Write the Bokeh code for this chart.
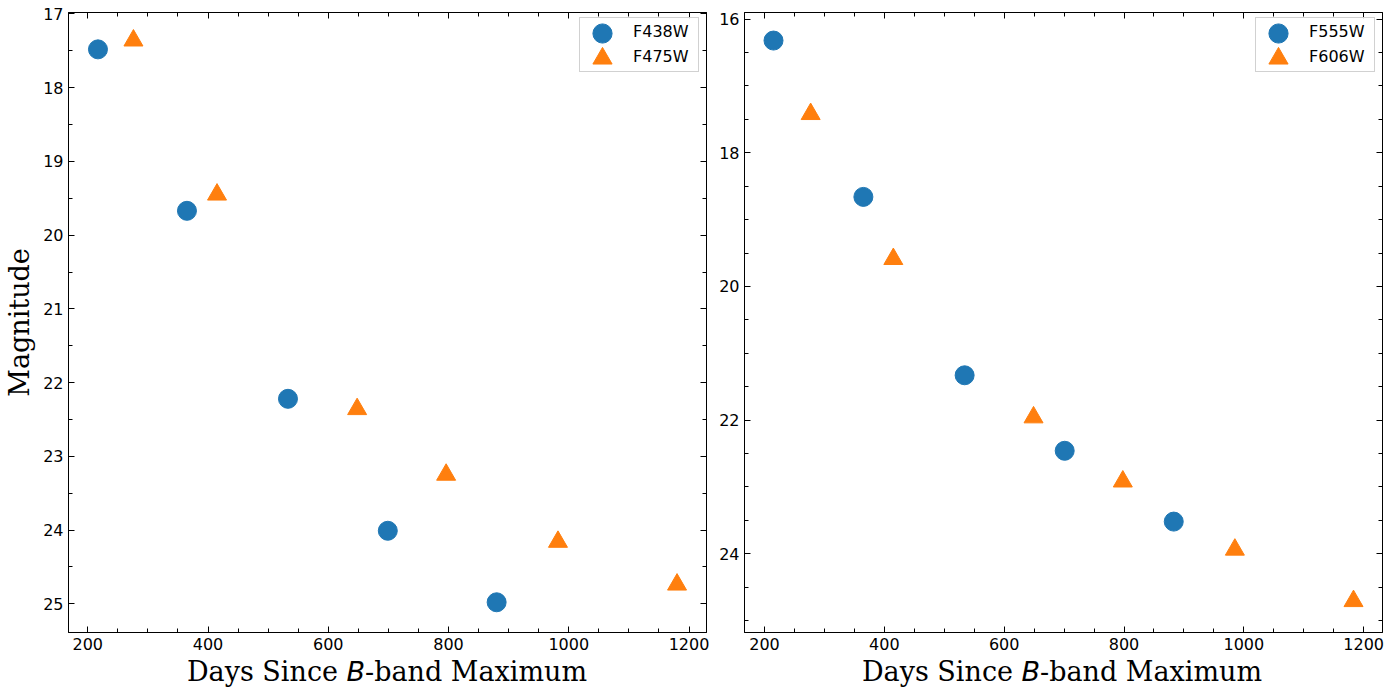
from bokeh.plotting import figure
from bokeh.layouts import row, column
from bokeh.models import (Range1d, SingleIntervalTicker, LinearAxis, CustomJSTickFormatter,
                          Legend, LegendItem, Div)
from bokeh.embed import file_html
from bokeh.resources import INLINE

# ---- data (left panel) ----
f438w_days = [217, 365, 533, 699, 880]
f438w_mag = [17.48, 19.67, 22.22, 24.01, 24.98]
f475w_days = [276, 415, 648, 796, 982, 1180]
f475w_mag = [17.36, 19.45, 22.36, 23.25, 24.16, 24.74]

# ---- data (right panel) ----
f555w_days = [215, 365, 534, 701, 883]
f555w_mag = [16.32, 18.66, 21.33, 22.46, 23.52]
f606w_days = [277, 415, 649, 798, 985, 1183]
f606w_mag = [17.42, 19.59, 21.96, 22.92, 23.94, 24.71]

BLUE = "#1f77b4"
ORANGE = "#ff7f0e"
FRAME_W = 638
FRAME_H = 620

# legend geometry (pixels, relative to the plot frame)
LEG_W = 118
LEG_RIGHT = 9
LEG_TOP = 7
ROW_H = 25
PAD_T = 1
PAD_B = 2
GLYPH_W = 46
BIG = 48  # glyph box for the large legend markers (0.4 * 48 ~ 19 px)


def style_axis(ax, labels=True):
    ax.axis_line_color = "black"
    ax.axis_line_width = 1
    ax.major_tick_in = 6
    ax.major_tick_out = 0
    ax.minor_tick_in = 4
    ax.minor_tick_out = 0
    ax.major_tick_line_color = "black"
    ax.minor_tick_line_color = "black"
    ax.major_tick_line_width = 1
    ax.minor_tick_line_width = 1
    if labels:
        ax.major_label_text_font = "DejaVu Sans"
        ax.major_label_text_font_size = "16px"
        ax.major_label_text_color = "black"
        ax.major_label_standoff = 5
    else:
        ax.formatter = CustomJSTickFormatter(code="return ''")
        ax.major_label_text_font_size = "1px"
        ax.major_label_standoff = 0


def make_panel(xr, yr, y_interval, y_minor, d1, m1, d2, m2, lab1, lab2,
               left_border, right_border, ylabel=None):
    p = figure(frame_width=FRAME_W, frame_height=FRAME_H,
               x_range=Range1d(*xr), y_range=Range1d(*yr),
               output_backend="svg", toolbar_location=None,
               min_border_left=left_border, min_border_right=right_border,
               min_border_top=12, min_border_bottom=24)
    p.xgrid.visible = False
    p.ygrid.visible = False
    p.outline_line_color = "black"
    p.background_fill_color = "white"
    p.border_fill_color = "white"

    p.xaxis[0].ticker = SingleIntervalTicker(interval=200, num_minor_ticks=4)
    p.yaxis[0].ticker = SingleIntervalTicker(interval=y_interval, num_minor_ticks=y_minor)
    style_axis(p.xaxis[0])
    style_axis(p.yaxis[0])

    top = LinearAxis(ticker=SingleIntervalTicker(interval=200, num_minor_ticks=4))
    right = LinearAxis(ticker=SingleIntervalTicker(interval=y_interval, num_minor_ticks=y_minor))
    style_axis(top, labels=False)
    style_axis(right, labels=False)
    p.add_layout(top, "above")
    p.add_layout(right, "right")

    if ylabel:
        p.yaxis[0].axis_label = ylabel
        p.yaxis[0].axis_label_text_font = "DejaVu Serif"
        p.yaxis[0].axis_label_text_font_size = "27px"
        p.yaxis[0].axis_label_text_font_style = "normal"
        p.yaxis[0].axis_label_text_color = "black"
        p.yaxis[0].axis_label_standoff = 5

    r1 = p.scatter(d1, m1, marker="circle", size=19, fill_color=BLUE, line_color=BLUE)
    r2 = p.scatter(d2, m2, marker="triangle", size=19, fill_color=ORANGE, line_color=ORANGE)

    # main legend: frame + labels
    leg_h = 2 * ROW_H + PAD_T + PAD_B
    leg_x = FRAME_W - LEG_RIGHT - LEG_W
    leg = Legend(items=[LegendItem(label=lab1, renderers=[r1]),
                        LegendItem(label=lab2, renderers=[r2])],
                 location=(leg_x, FRAME_H - LEG_TOP - leg_h), margin=0,
                 glyph_width=GLYPH_W, glyph_height=ROW_H, spacing=0,
                 padding=dict(left=0, right=3, top=PAD_T, bottom=PAD_B),
                 label_standoff=7, label_width=62, label_height=20,
                 label_text_font="DejaVu Sans", label_text_font_size="16px",
                 label_text_color="black",
                 border_line_color="#cccccc", border_line_width=1, border_line_alpha=0.9,
                 background_fill_color="white", background_fill_alpha=0.8)
    p.add_layout(leg)

    # larger legend markers drawn on top of the legend's glyph column
    for i, r in enumerate((r1, r2)):
        center_from_top = LEG_TOP + PAD_T + ROW_H * i + ROW_H / 2
        big = Legend(items=[LegendItem(label=" ", renderers=[r])],
                     location=(leg_x + GLYPH_W / 2 - BIG / 2, FRAME_H - center_from_top - BIG / 2),
                     margin=0, glyph_width=BIG, glyph_height=BIG, spacing=0, padding=0,
                     label_standoff=0, label_width=0, label_height=0,
                     label_text_font_size="1px",
                     border_line_color=None, background_fill_alpha=0)
        p.add_layout(big)
    return p


p1 = make_panel((168.0, 1229.0), (25.39, 16.98), 1, 2,
                f438w_days, f438w_mag, f475w_days, f475w_mag, "F438W", "F475W",
                68, 10, ylabel="Magnitude")
p2 = make_panel((166.6, 1231.4), (25.18, 15.90), 2, 4,
                f555w_days, f555w_mag, f606w_days, f606w_mag, "F555W", "F606W",
                27, 16)

label_html = ("<div style=\"display:block;width:%dpx;text-align:center;font-family:'DejaVu Serif';"
              "font-size:27px;line-height:31px;white-space:nowrap;color:black\">Days Since "
              "<span style=\"font-family:'DejaVu Sans';font-style:italic\">B</span>-band Maximum</div>"
              % FRAME_W)
d1 = Div(text=label_html, width=FRAME_W, height=34, margin=(0, 0, 0, 68),
         styles={"text-align": "center", "width": "%dpx" % FRAME_W})
d2 = Div(text=label_html, width=FRAME_W, height=34, margin=(0, 0, 0, 27),
         styles={"text-align": "center", "width": "%dpx" % FRAME_W})

layout = row(column(p1, d1), column(p2, d2))
open("out.html", "w").write(file_html(layout, INLINE))
